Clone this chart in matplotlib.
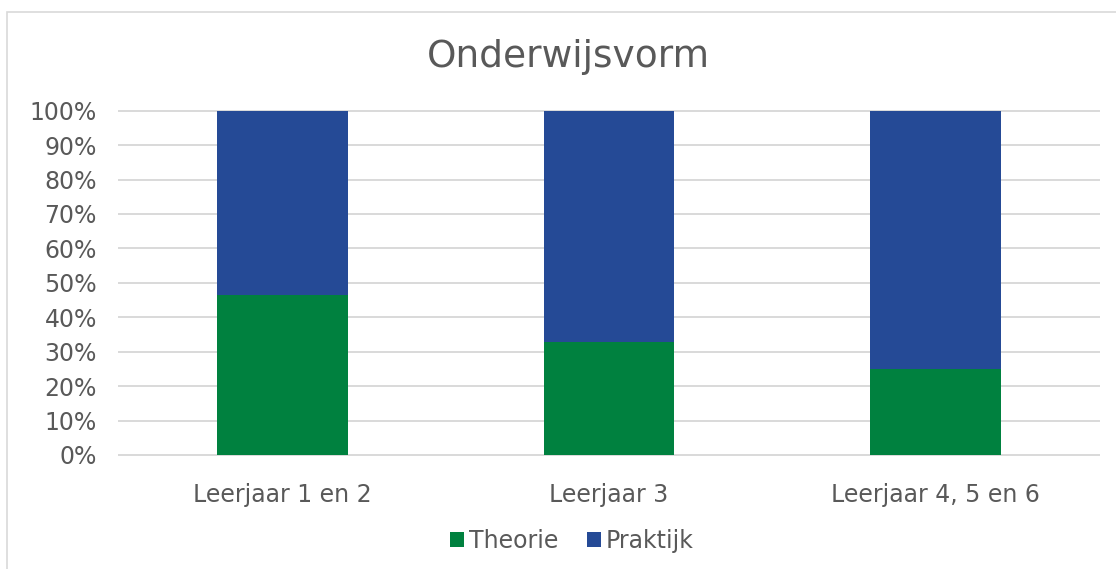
import matplotlib
matplotlib.use("Agg")
import matplotlib.pyplot as plt
import numpy as np
from matplotlib.patches import Rectangle

categories = ["Leerjaar 1 en 2", "Leerjaar 3", "Leerjaar 4, 5 en 6"]
theorie = [46.5, 32.8, 25.0]
praktijk = [53.5, 67.2, 75.0]
yticks = [0, 10, 20, 30, 40, 50, 60, 70, 80, 90, 100]

green = "#00813F"
blue = "#254A96"
grey_text = "#595959"

plt.rcParams["font.family"] = ["DejaVu Sans"]

fig = plt.figure(figsize=(11.16, 5.69), dpi=100)
fig.patch.set_facecolor("white")

# chart area border (Excel frame)
fig.add_artist(Rectangle((7 / 1116, -0.1), 1.2, 1 - 12 / 569 + 0.1,
                         transform=fig.transFigure, fill=False,
                         edgecolor="#D9D9D9", linewidth=1.2))

ax = fig.add_axes([119 / 1116, 1 - 455 / 569, 980 / 1116, 344.3 / 569])
x = np.arange(len(categories))
ax.bar(x, theorie, width=0.4, color=green, label="Theorie", zorder=3)
ax.bar(x, praktijk, width=0.4, bottom=theorie, color=blue, label="Praktijk", zorder=3)

ax.set_xlim(-0.5, len(categories) - 0.5)
ax.set_ylim(0, 100)
ax.set_yticks(yticks)
ax.set_yticklabels([f"{v}%" for v in yticks])
ax.set_xticks(x)
ax.set_xticklabels(categories)
ax.yaxis.grid(True, color="#D9D9D9", linewidth=1.4, zorder=0)
for gl in ax.get_ygridlines():
    gl.set_clip_on(False)
ax.set_axisbelow(True)
for s in ax.spines.values():
    s.set_visible(False)
ax.tick_params(axis="both", length=0, labelsize=17, colors=grey_text)
ax.tick_params(axis="y", pad=16)
ax.tick_params(axis="x", pad=20)

fig.text(568 / 1116, 1 - 57 / 569, "Onderwijsvorm", ha="center", va="center",
         fontsize=27, color=grey_text)

leg = fig.legend(loc="center", bbox_to_anchor=(572 / 1116, 1 - 541 / 569), ncol=2,
                 frameon=False, fontsize=17, handlelength=0.6, handleheight=0.6,
                 handletextpad=0.2, columnspacing=1.2)
for t in leg.get_texts():
    t.set_color(grey_text)

fig.savefig("out.png", dpi=100)
